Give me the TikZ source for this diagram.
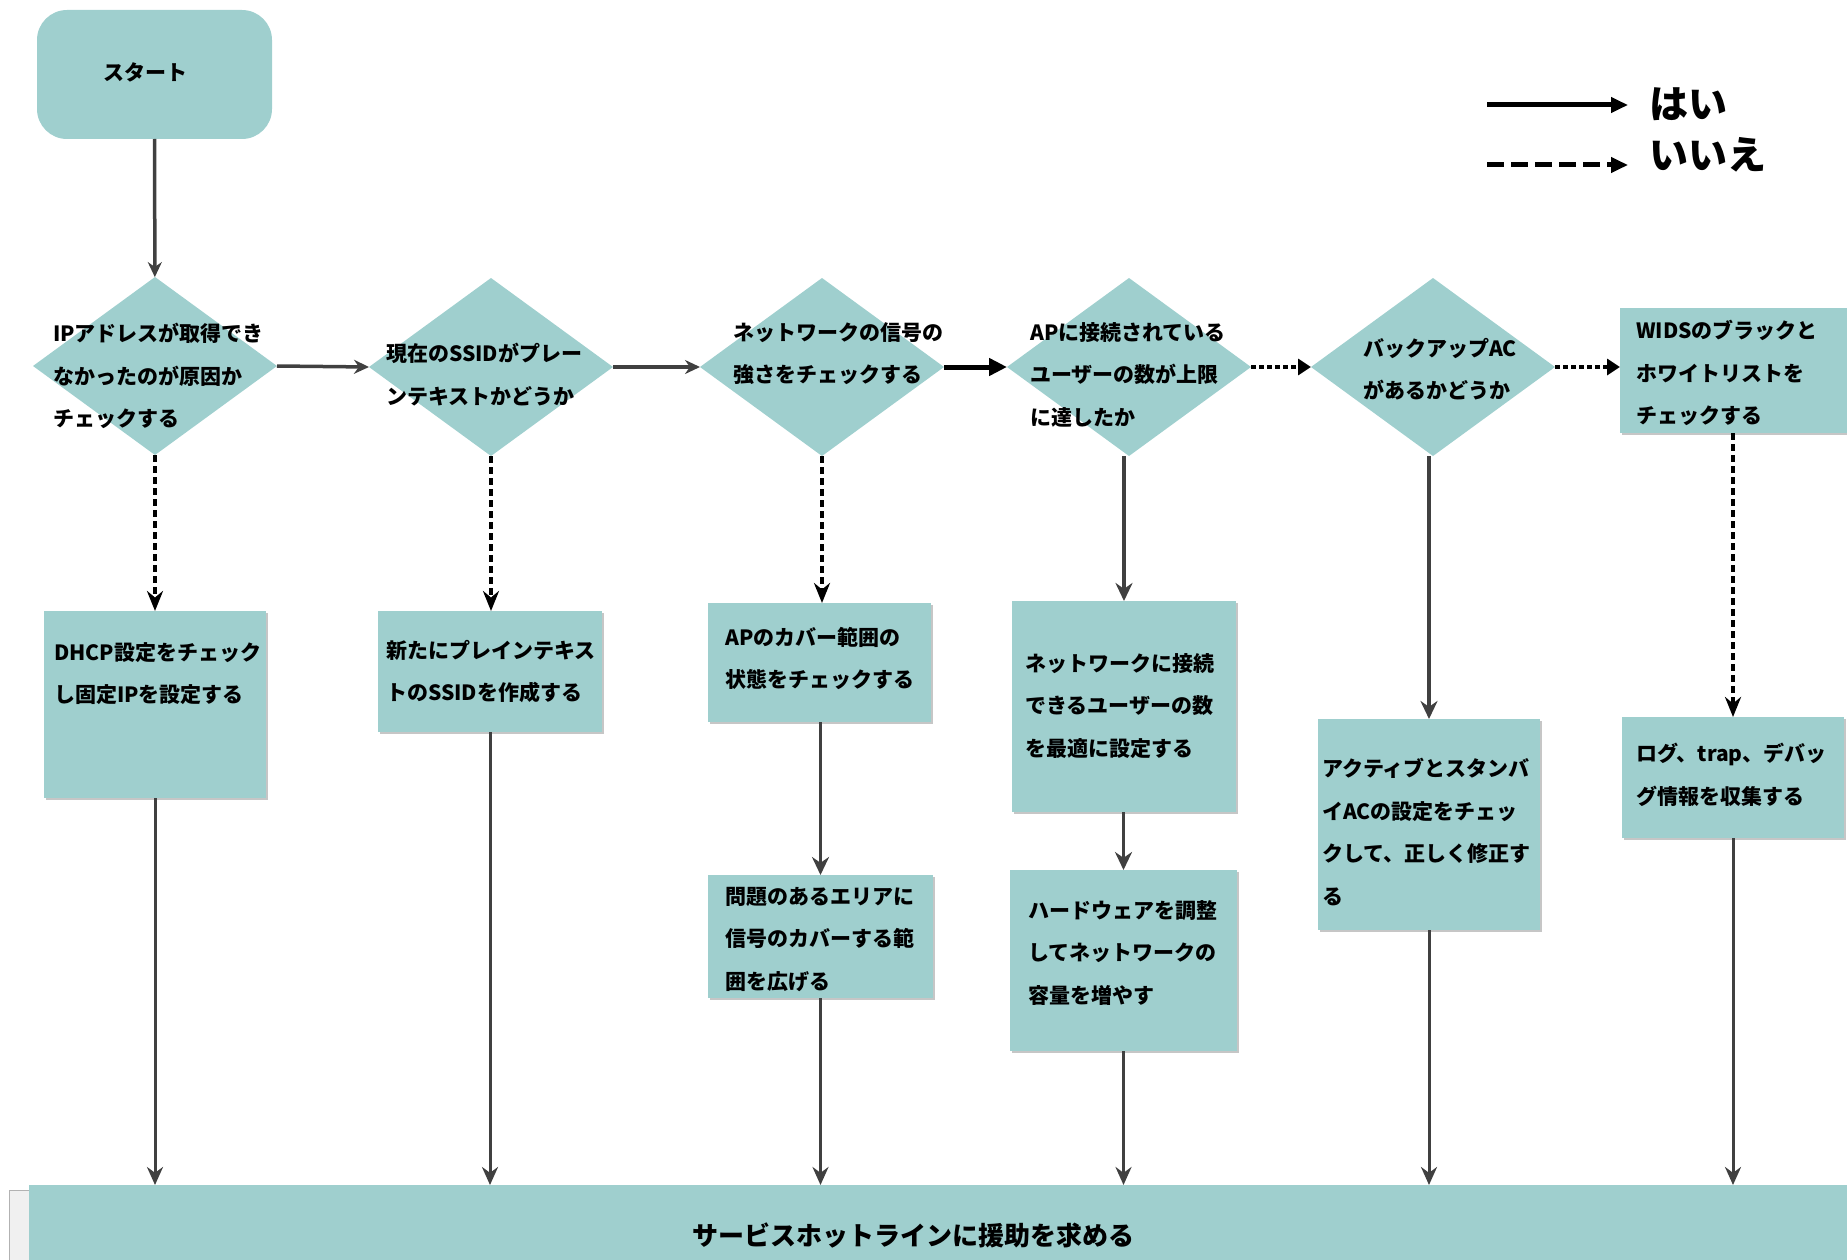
\documentclass[tikz,border=0pt]{standalone}
\usepackage{fontspec}
\setmainfont{Noto Sans CJK JP}
\usetikzlibrary{arrows.meta,shapes.geometric,shadows}
\definecolor{tl}{RGB}{159,207,206}
\definecolor{ln}{RGB}{64,64,64}
\tikzset{
  shp/.style={draw=none, fill=tl, inner sep=0pt, outer sep=0pt},
  boxx/.style={shp, rectangle, drop shadow={shadow xshift=1.5pt, shadow yshift=-1.5pt, fill=black!50, opacity=0.45}},
  dia/.style={shp, diamond, minimum width=244pt, minimum height=178pt},
  txt/.style={anchor=north west, inner sep=0pt, align=left, font=\bfseries\fontsize{21}{42.5}\selectfont},
  yesln/.style={draw=ln, line width=3.5pt, -{Stealth[length=15pt, width=14pt]}},
  yesbig/.style={draw=black, line width=5pt, -{Triangle[length=18pt, width=17pt]}},
  nodot/.style={draw=black, line width=4pt, dash pattern=on 5pt off 3pt, -{Triangle[length=13pt, width=16pt]}},
  nodash/.style={draw=black, line width=4pt, dash pattern=on 7pt off 4pt, -{Stealth[length=20pt, width=16pt]}},
  down/.style={draw=ln, line width=3.5pt, -{Stealth[length=18pt, width=17pt]}},
  tobar/.style={draw=ln, line width=3pt, -{Stealth[length=18pt, width=16pt]}},
}
\begin{document}
\begin{tikzpicture}[x=1pt, y=-1pt]
\useasboundingbox (0,0) rectangle (1847,1260);

% legend
\coordinate (la1) at (1487,105);
\coordinate (lb1) at (1628,105);
\coordinate (la2) at (1487,165);
\coordinate (lb2) at (1628,165);
\draw[draw=black, line width=5pt, -{Triangle[length=17pt, width=15pt]}] (la1) -- (lb1);
\draw[draw=black, line width=5pt, dash pattern=on 17pt off 7pt, -{Triangle[length=17pt, width=15pt]}] (la2) -- (lb2);
\node[anchor=west, inner sep=0pt, font=\bfseries\fontsize{39}{40}\selectfont] (lyes) at (1649,104) {はい};
\node[anchor=west, inner sep=0pt, font=\bfseries\fontsize{39}{40}\selectfont] (lno) at (1649,155) {いいえ};

% start
\node[shp, rectangle, rounded corners=30pt, minimum width=235pt, minimum height=129pt] (start) at (154.5,74.5) {};
\node[txt] (tstart) at (103,62) {スタート};

% diamonds
\node[dia] (d1) at (155,366) {};
\node[dia] (d2) at (491,367) {};
\node[dia] (d3) at (822,367) {};
\node[dia] (d4) at (1129,367) {};
\node[dia] (d5) at (1433,367) {};
\node[boxx, minimum width=240pt, minimum height=125pt] (wids) at (1740,370.5) {};

\node[txt] (td1) at (53,323) {IPアドレスが取得でき\\なかったのが原因か\\チェックする};
\node[txt] (td2) at (386,343) {現在のSSIDがプレー\\ンテキストかどうか};
\node[txt] (td3) at (733,322) {ネットワークの信号の\\強さをチェックする};
\node[txt] (td4) at (1030,322) {APに接続されている\\ユーザーの数が上限\\に達したか};
\node[txt] (td5) at (1363,338) {バックアップAC\\があるかどうか};
\node[txt] (twids) at (1636,320) {WIDSのブラックと\\ホワイトリストを\\チェックする};

% action boxes
\node[boxx, minimum width=222pt, minimum height=187pt] (dhcp) at (155,704.5) {};
\node[boxx, minimum width=224pt, minimum height=121pt] (newb) at (490,671.5) {};
\node[boxx, minimum width=223pt, minimum height=119pt] (apc) at (819.5,662.5) {};
\node[boxx, minimum width=225pt, minimum height=123pt] (prob) at (820.5,936.5) {};
\node[boxx, minimum width=224pt, minimum height=211pt] (netc) at (1124,706.5) {};
\node[boxx, minimum width=227pt, minimum height=181pt] (hw) at (1123.5,960.5) {};
\node[boxx, minimum width=222pt, minimum height=211pt] (act) at (1429,824.5) {};
\node[boxx, minimum width=222pt, minimum height=121pt] (logb) at (1733,777.5) {};

\node[txt] (tdhcp) at (54,642) {DHCP設定をチェック\\し固定IPを設定する};
\node[txt] (tnewb) at (386,640) {新たにプレインテキス\\トのSSIDを作成する};
\node[txt] (tapc) at (725,627) {APのカバー範囲の\\状態をチェックする};
\node[txt] (tprob) at (725,887) {問題のあるエリアに\\信号のカバーする範\\囲を広げる};
\node[txt] (tnetc) at (1025,653) {ネットワークに接続\\できるユーザーの数\\を最適に設定する};
\node[txt] (thw) at (1028,900) {ハードウェアを調整\\してネットワークの\\容量を増やす};
\node[txt] (tact) at (1322,758) {アクティブとスタンバ\\イACの設定をチェッ\\クして、正しく修正す\\る};
\node[txt] (tlog) at (1636,743) {ログ、trap、デバッ\\グ情報を収集する};

% bottom bar
\node[draw=gray!60, fill=gray!12, rectangle, inner sep=0pt, minimum width=22pt, minimum height=80pt] (edge) at (20,1230) {};
\node[shp, rectangle, minimum width=1831pt, minimum height=90pt] (bar) at (944.5,1230) {};
\node[inner sep=0pt, font=\bfseries\fontsize{26}{28}\selectfont] (tbar) at (913,1235) {サービスホットラインに援助を求める};

% connectors
\draw[yesln] (start) -- (d1);
\draw[yesln] (d1.east) -- (d2.west);
\draw[yesln] (d2.east) -- (d3.west);
\draw[yesbig] (d3.east) -- (d4.west);
\draw[nodot] (d4.east) -- (d5.west);
\draw[nodot] (d5.east) -- (d5.east -| wids.west);

\draw[nodash] (d1.south) -- (dhcp.north);
\draw[nodash] (d2.south) -- (d2.south |- newb.north);
\draw[nodash] (d3.south) -- (d3.south |- apc.north);
\draw[down] (d4.south -| netc.north) -- (netc.north);
\draw[down] (d5.south -| act.north) -- (act.north);
\draw[nodash] (wids.south -| logb.north) -- (logb.north);
\draw[down] (apc.south -| prob.north) -- (prob.north);
\draw[down] (netc.south -| hw.north) -- (hw.north);

\draw[tobar] (dhcp.south) -- (dhcp.south |- bar.north);
\draw[tobar] (newb.south) -- (newb.south |- bar.north);
\draw[tobar] (prob.south) -- (prob.south |- bar.north);
\draw[tobar] (hw.south) -- (hw.south |- bar.north);
\draw[tobar] (act.south) -- (act.south |- bar.north);
\draw[tobar] (logb.south) -- (logb.south |- bar.north);
\end{tikzpicture}
\end{document}
